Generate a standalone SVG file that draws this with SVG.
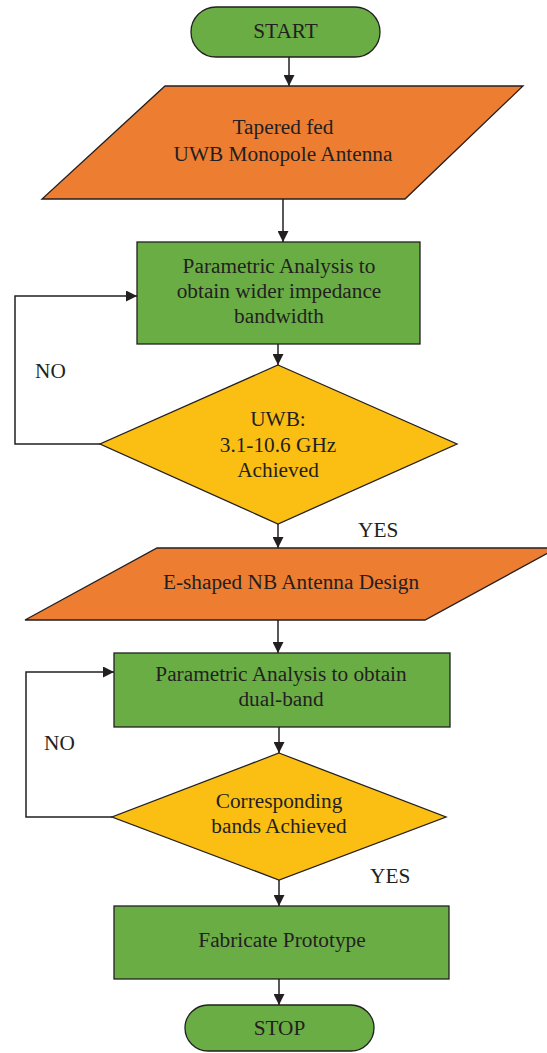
<svg xmlns="http://www.w3.org/2000/svg" width="547" height="1053" viewBox="0 0 547 1053">
<defs>
<marker id="ah" viewBox="0 0 10 10" refX="10" refY="5" markerWidth="11" markerHeight="11" markerUnits="userSpaceOnUse" orient="auto">
<path d="M0,0 L10,5 L0,10 Z" fill="#231F20"/>
</marker>
<style>
.g{fill:#6AAD45;stroke:#231F20;stroke-width:1.3}
.o{fill:#ED7D31;stroke:#231F20;stroke-width:1.3}
.y{fill:#FBBF14;stroke:#231F20;stroke-width:1.3}
.t{font-family:"Liberation Serif","Times New Roman",serif;font-size:21.3px;fill:#231F20;text-anchor:middle}
.l{font-family:"Liberation Serif","Times New Roman",serif;font-size:21.3px;fill:#231F20}
.c{fill:none;stroke:#231F20;stroke-width:1.5}
</style>
</defs>
<rect width="547" height="1053" fill="#ffffff"/>
<g id="connectors">
<path class="c" d="M289,57 V86" marker-end="url(#ah)"/>
<path class="c" d="M283,199 V242" marker-end="url(#ah)"/>
<path class="c" d="M278,344 V365" marker-end="url(#ah)"/>
<path class="c" d="M100,444 H15 V296 H137" marker-end="url(#ah)"/>
<path class="c" d="M278,524 V548" marker-end="url(#ah)"/>
<path class="c" d="M278,620 V653" marker-end="url(#ah)"/>
<path class="c" d="M279,727 V753" marker-end="url(#ah)"/>
<path class="c" d="M112,817 H26 V672 H114" marker-end="url(#ah)"/>
<path class="c" d="M279,880 V906" marker-end="url(#ah)"/>
<path class="c" d="M279,979 V1005" marker-end="url(#ah)"/>
<text class="l" x="35" y="378">NO</text>
<text class="l" x="358" y="537">YES</text>
<text class="l" x="44" y="750">NO</text>
<text class="l" x="370" y="883">YES</text>
</g>
<g id="start">
<rect class="g" x="191" y="7" width="189" height="50" rx="25" ry="25"/>
<text class="t" x="285.5" y="38">START</text>
</g>
<g id="tapered">
<polygon class="o" points="165,86 523,86 405,199 42,199"/>
<text class="t" x="283" y="134">Tapered fed</text>
<text class="t" x="283" y="161">UWB Monopole Antenna</text>
</g>
<g id="param1">
<rect class="g" x="137" y="242" width="283" height="102"/>
<text class="t" x="279" y="273">Parametric Analysis to</text>
<text class="t" x="279" y="298">obtain wider impedance</text>
<text class="t" x="279" y="323">bandwidth</text>
</g>
<g id="uwb">
<polygon class="y" points="278,365 457,444 278,524 100,444"/>
<text class="t" x="278" y="426">UWB:</text>
<text class="t" x="278" y="452">3.1-10.6 GHz</text>
<text class="t" x="278" y="477">Achieved</text>
</g>
<g id="eshaped">
<polygon class="o" points="157,548 557,548 425,620 25,620"/>
<text class="t" x="291" y="589">E-shaped NB Antenna Design</text>
</g>
<g id="param2">
<rect class="g" x="114" y="653" width="336" height="74"/>
<text class="t" x="281" y="681">Parametric Analysis to obtain</text>
<text class="t" x="281" y="706">dual-band</text>
</g>
<g id="bands">
<polygon class="y" points="279,753 446,817 279,880 112,817"/>
<text class="t" x="279" y="808">Corresponding</text>
<text class="t" x="279" y="833">bands Achieved</text>
</g>
<g id="fabricate">
<rect class="g" x="114" y="906" width="335" height="73"/>
<text class="t" x="282" y="947">Fabricate Prototype</text>
</g>
<g id="stop">
<rect class="g" x="185" y="1005" width="189" height="46" rx="23" ry="23"/>
<text class="t" x="279.5" y="1035">STOP</text>
</g>
</svg>
